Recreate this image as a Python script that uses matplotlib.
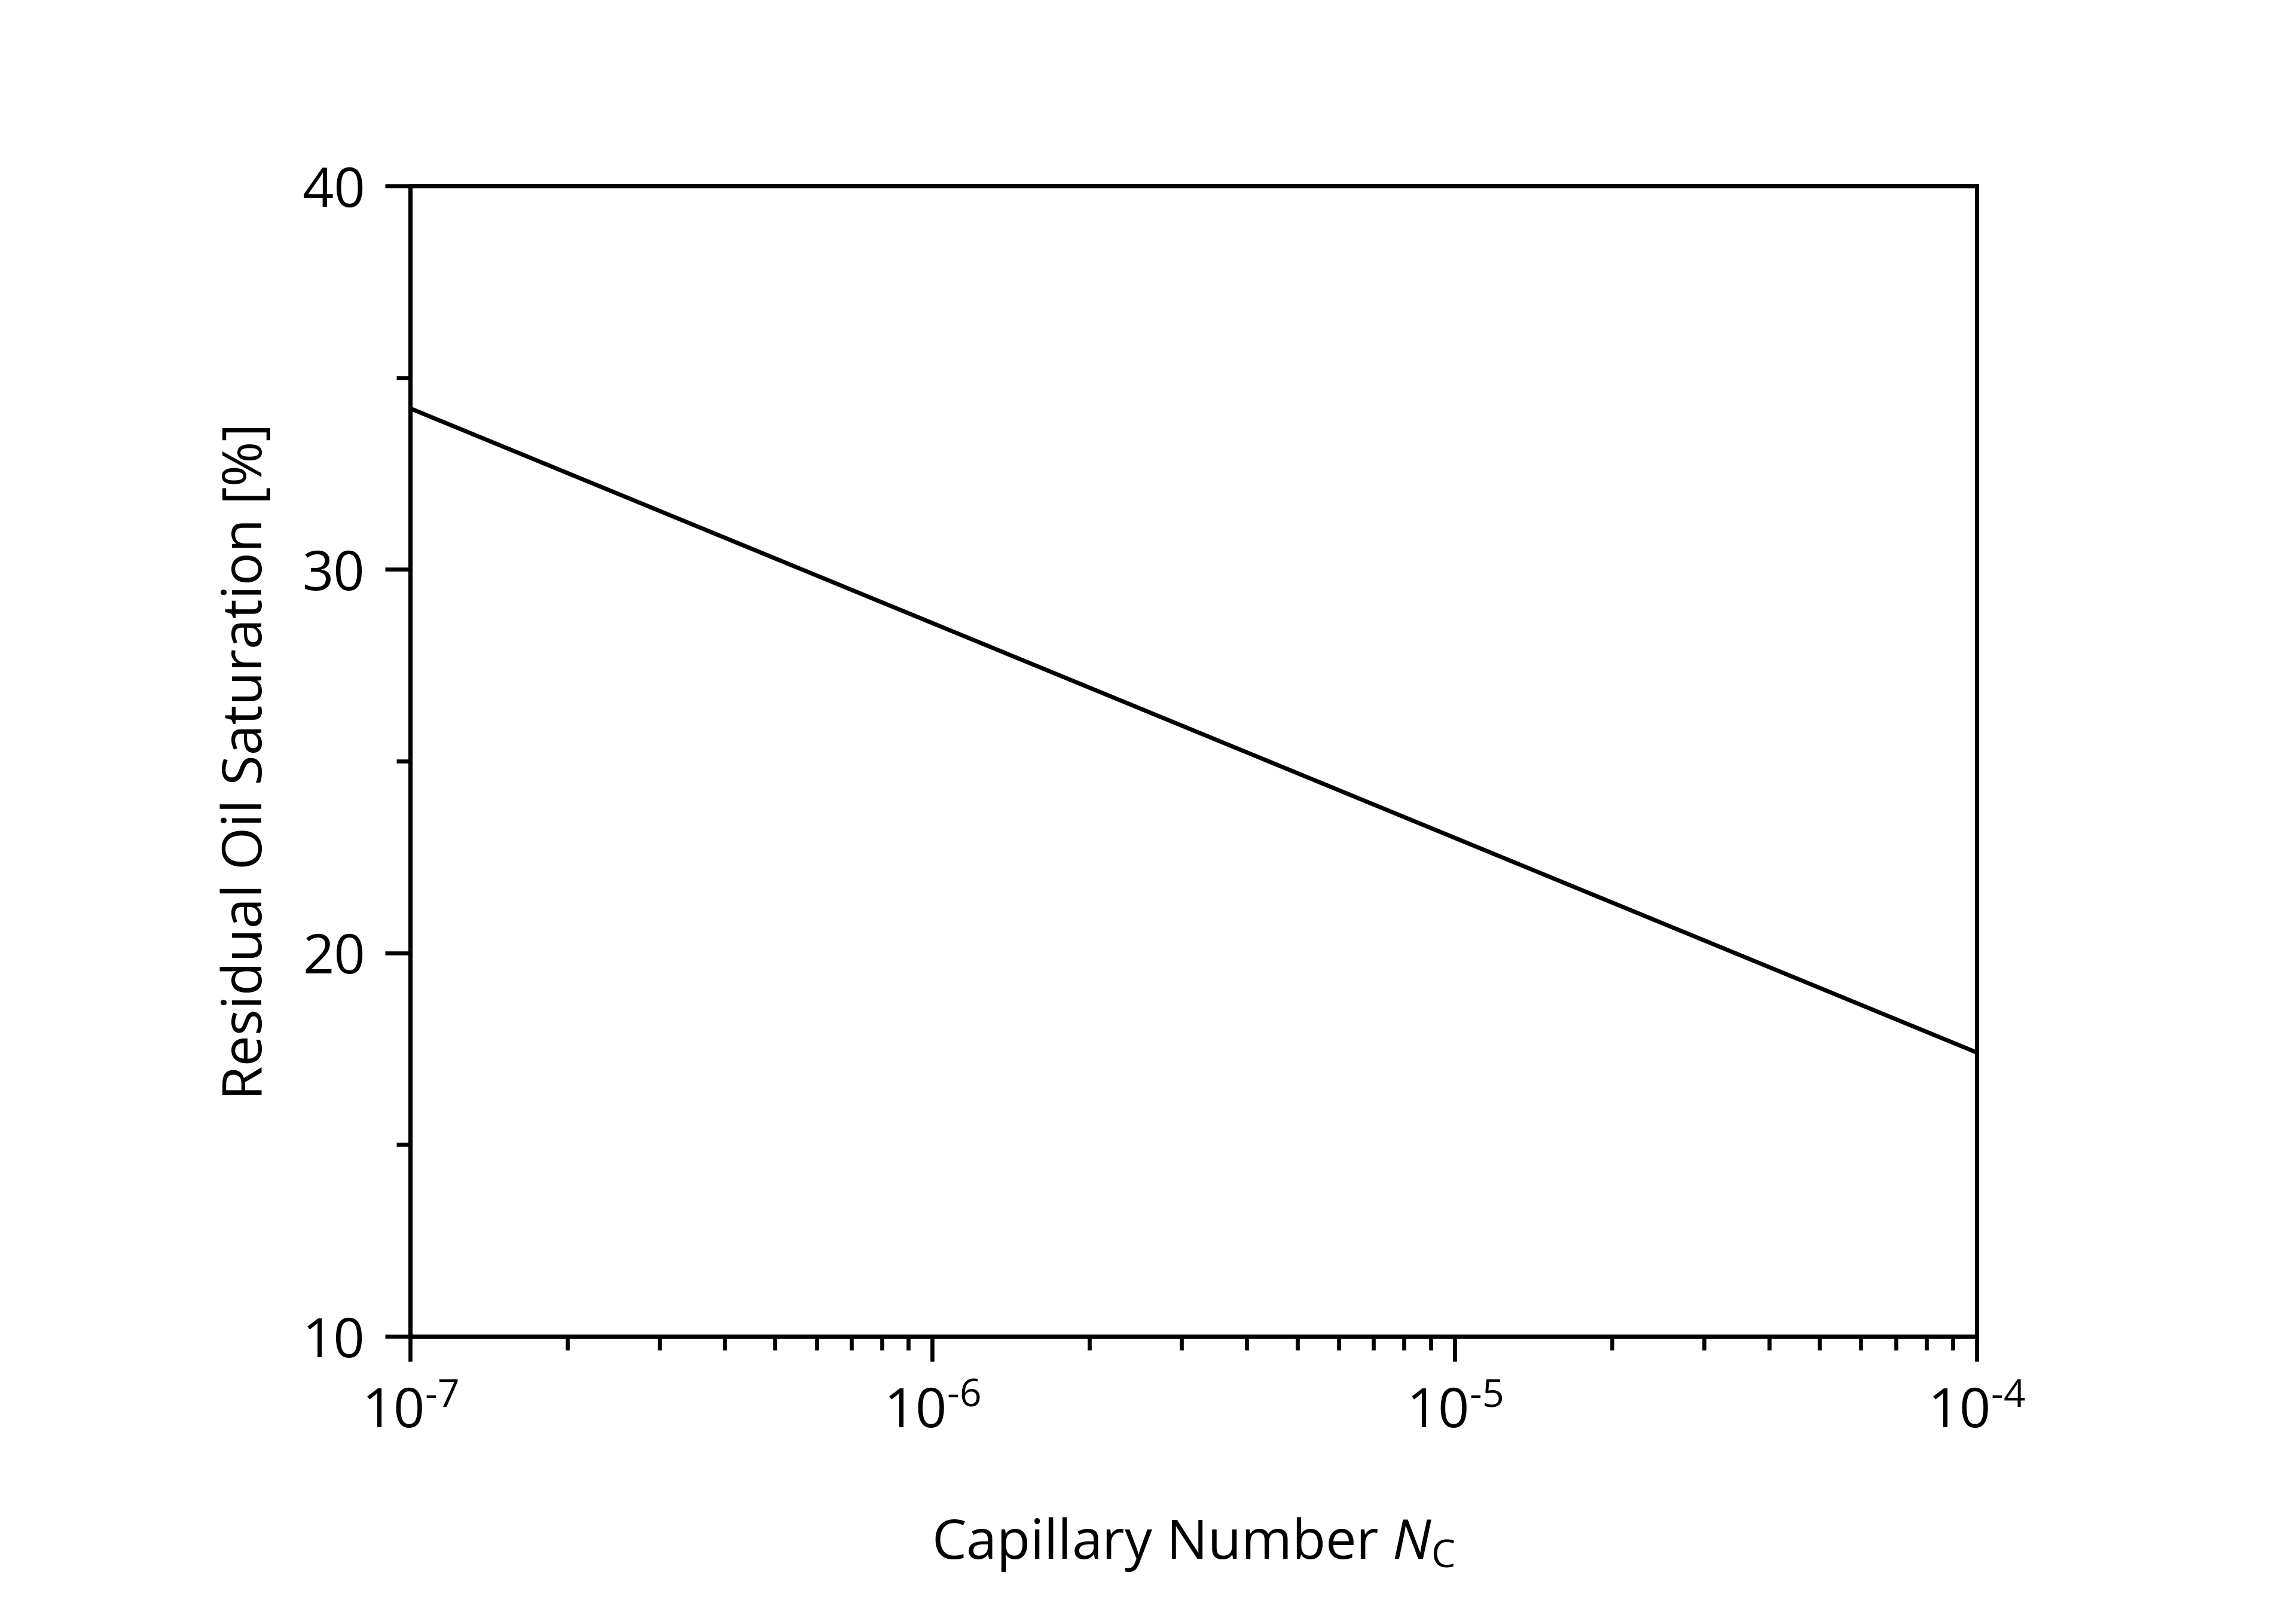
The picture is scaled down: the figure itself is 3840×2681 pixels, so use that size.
import numpy as np
import matplotlib.pyplot as plt
from matplotlib.ticker import FixedLocator, LogLocator, NullFormatter

plt.rcParams['font.family'] = ['Open Sans', 'DejaVu Sans']
plt.rcParams['mathtext.fontset'] = 'custom'
plt.rcParams['mathtext.rm'] = 'Open Sans'
plt.rcParams['mathtext.it'] = 'Open Sans:italic'
plt.rcParams['axes.unicode_minus'] = False

# datos
numero_capilar = [1e-7, 1e-6, 1e-5, 1e-4]
saturacion = [34.2, 28.6, 23.0, 17.4]
ticks_x = [1e-7, 1e-6, 1e-5, 1e-4]
etiquetas_x = [r'$\mathregular{10^{\text{-}7}}$', r'$\mathregular{10^{\text{-}6}}$',
               r'$\mathregular{10^{\text{-}5}}$', r'$\mathregular{10^{\text{-}4}}$']
ticks_y = [10, 20, 30, 40]
ticks_y_menor = [15, 25, 35]

fig = plt.figure(figsize=(12.8, 2681/300), dpi=300)
ax = fig.add_axes([0.1786, 0.1664, 0.861-0.1786, 0.884-0.1664])

ax.plot(numero_capilar, saturacion, color='black', lw=1.7)

ax.set_xscale('log')
ax.set_xlim(1e-7, 1e-4)
ax.set_ylim(10, 40)
ax.set_xticks(ticks_x)
ax.set_xticklabels(etiquetas_x)
ax.xaxis.set_minor_locator(LogLocator(base=10, subs=np.arange(2, 10)))
ax.xaxis.set_minor_formatter(NullFormatter())
ax.set_yticks(ticks_y)
ax.yaxis.set_minor_locator(FixedLocator(ticks_y_menor))

for s in ax.spines.values():
    s.set_linewidth(1.7)

ax.tick_params(which='major', direction='out', length=10, width=1.6, labelsize=22, pad=8)
ax.tick_params(axis='x', which='major', pad=10)
ax.tick_params(which='minor', direction='out', length=5.5, width=1.6)
ax.tick_params(top=False, right=False, which='both')

ax.set_xlabel(r'Capillary Number $\mathit{N}_{\mathregular{C}}$', fontsize=22, labelpad=30)
ax.set_ylabel('Residual Oil Saturation [%]', fontsize=22, labelpad=11)

fig.savefig('out.png', dpi=300)
